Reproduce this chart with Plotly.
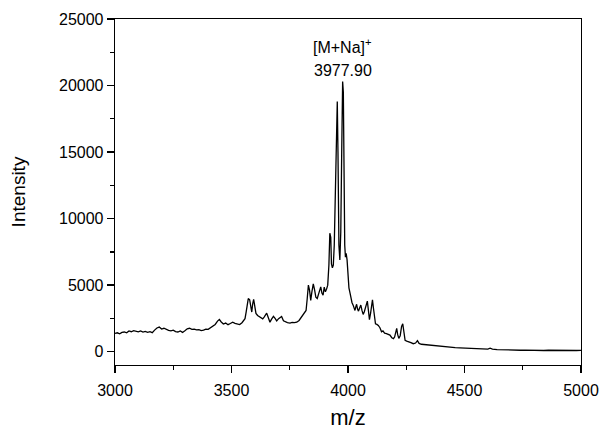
import plotly.graph_objects as go

# m/z values and intensities
mz = [3000, 3010, 3020, 3030, 3040, 3050, 3060, 3070, 3080, 3090,
      3100, 3110, 3120, 3130, 3140, 3150, 3160, 3170, 3180, 3190,
      3200, 3210, 3220, 3230, 3240, 3250, 3260, 3270, 3280, 3290,
      3300, 3310, 3320, 3330, 3340, 3350, 3360, 3370, 3380, 3390,
      3400, 3410, 3420, 3430, 3440, 3448, 3455, 3465, 3475, 3485,
      3495, 3505, 3515, 3525, 3535, 3545, 3552, 3558, 3563, 3568,
      3572, 3578, 3583, 3587, 3591, 3595, 3600, 3605, 3612, 3620,
      3628, 3634, 3640, 3646, 3651, 3657, 3665, 3672, 3680, 3687,
      3694, 3702, 3709, 3715, 3723, 3730, 3740, 3751, 3760, 3770,
      3780, 3790, 3801, 3808, 3815, 3820, 3825, 3830, 3835, 3840,
      3845, 3851, 3856, 3862, 3868, 3873, 3878, 3883, 3888, 3893,
      3898, 3903, 3908, 3913, 3918, 3922, 3926, 3929, 3933, 3937,
      3941, 3945, 3950, 3954, 3957, 3961, 3965, 3969, 3973, 3977,
      3980, 3983, 3986, 3989, 3992, 3996, 4000, 4004, 4009, 4013,
      4017, 4022, 4026, 4030, 4034, 4037, 4041, 4045, 4049, 4055,
      4060, 4065, 4070, 4075, 4080, 4083, 4087, 4092, 4097, 4101,
      4105, 4109, 4113, 4118, 4124, 4130, 4137, 4144, 4150, 4157,
      4165, 4172, 4180, 4188, 4195, 4200, 4205, 4209, 4213, 4218,
      4224, 4230, 4235, 4239, 4245, 4252, 4260, 4270, 4280, 4290,
      4298, 4305, 4315, 4325, 4340, 4355, 4370, 4385, 4400, 4420,
      4440, 4460, 4480, 4500, 4520, 4540, 4560, 4580, 4600, 4610,
      4620, 4640, 4660, 4680, 4700, 4720, 4740, 4760, 4780, 4800,
      4820, 4840, 4860, 4880, 4900, 4920, 4940, 4960, 4980, 5000]

intensity = [1380, 1420, 1350, 1450, 1480, 1420, 1560, 1500, 1580, 1520,
             1490, 1560, 1480, 1530, 1460, 1500, 1430, 1620, 1780, 1850,
             1700, 1760, 1650, 1600, 1560, 1620, 1510, 1480, 1560, 1450,
             1580, 1720, 1760, 1680, 1700, 1640, 1660, 1580, 1620, 1700,
             1680, 1790, 1900, 2050, 2300, 2420, 2250, 2080, 2150, 2030,
             2120, 2220, 2130, 2060, 2040, 2180, 2350, 2480, 3000, 3700,
             3990, 3900, 3300, 2980, 3600, 3940, 3400, 2880, 2720, 2650,
             2580, 2470, 2600, 2820, 2900, 2600, 2220, 2450, 2650, 2500,
             2320, 2480, 2560, 2650, 2320, 2250, 2180, 2150, 2200, 2180,
             2220, 2350, 2650, 2850, 3000, 3100, 4000, 5000, 4600, 3860,
             4500, 5100, 4700, 4100, 4000, 4300, 4700, 4870, 4400, 4250,
             4850, 4500, 4700, 5000, 6500, 8900, 8600, 6600, 6300, 6500,
             8000, 12000, 17000, 18800, 15000, 8000, 6900, 9000, 15000, 20300,
             19500, 13000, 8000, 7100, 7400, 6900, 5600, 4800, 4390, 3900,
             3700, 3500, 3300, 3100, 3400, 3560, 3200, 3050, 3250, 3500,
             3100, 2800, 3000, 3300, 3740, 3800, 3200, 2400, 2900, 3600,
             3900, 3300, 2500, 2100, 2050, 1970, 1800, 1500, 1560, 1400,
             1360, 1300, 1250, 1050, 980, 1100, 1600, 1750, 1300, 1000,
             1200, 1900, 2100, 1500, 860, 800, 720, 680, 600, 650,
             830, 620, 560, 540, 500, 470, 440, 410, 380, 350,
             330, 300, 280, 260, 250, 240, 230, 220, 200, 260,
             200, 160, 140, 130, 120, 130, 110, 120, 100, 110,
             100, 90, 110, 100, 90, 100, 90, 110, 90, 100]

x_ticks = [3000, 3500, 4000, 4500, 5000]
y_ticks = [0, 5000, 10000, 15000, 20000, 25000]
peak_label = "[M+Na]<sup>+</sup>"
peak_value = "3977.90"
peak_mz = 3977.9

FONT = "Liberation Sans, Arial, sans-serif"

fig = go.Figure()
fig.add_trace(go.Scatter(x=mz, y=intensity, mode="lines",
                         line=dict(color="black", width=1.3),
                         showlegend=False, hoverinfo="skip"))

fig.add_annotation(x=peak_mz, y=23000, text=peak_label, showarrow=False,
                   font=dict(family=FONT, size=16, color="black"))
fig.add_annotation(x=peak_mz, y=21100, text=peak_value, showarrow=False,
                   font=dict(family=FONT, size=16, color="black"))

axis_common = dict(showline=True, linecolor="black", linewidth=1.3, mirror=True,
                   ticks="outside", ticklen=7, tickwidth=1.3, tickcolor="black",
                   showgrid=False, zeroline=False, automargin=False,
                   tickfont=dict(family=FONT, size=16, color="black"))

fig.update_xaxes(range=[3000, 5000], tickvals=x_ticks,
                 ticktext=[str(v) for v in x_ticks],
                 ticklabelstandoff=3,
                 minor=dict(dtick=250, tick0=3000, ticklen=4, tickwidth=1.3,
                            tickcolor="black", ticks="outside", showgrid=False),
                 title=dict(text="m/z", font=dict(family=FONT, size=22, color="black"),
                            standoff=12),
                 **axis_common)
fig.update_yaxes(range=[-1000, 25000], tickvals=y_ticks,
                 ticktext=[str(v) for v in y_ticks],
                 minor=dict(dtick=2500, tick0=0, ticklen=4, tickwidth=1.3,
                            tickcolor="black", ticks="outside", showgrid=False),
                 title=dict(text="Intensity", font=dict(family=FONT, size=19, color="black"),
                            standoff=28),
                 **axis_common)

fig.update_layout(width=612, height=432,
                  margin=dict(l=115, r=31, t=19, b=67),
                  paper_bgcolor="white", plot_bgcolor="white")

# remove the browser's default page margin so the figure sits at the window origin
fig.write_html("out.html",
               config={"displayModeBar": False, "staticPlot": True},
               post_script="document.body.style.margin='0';document.body.style.overflow='hidden';")
